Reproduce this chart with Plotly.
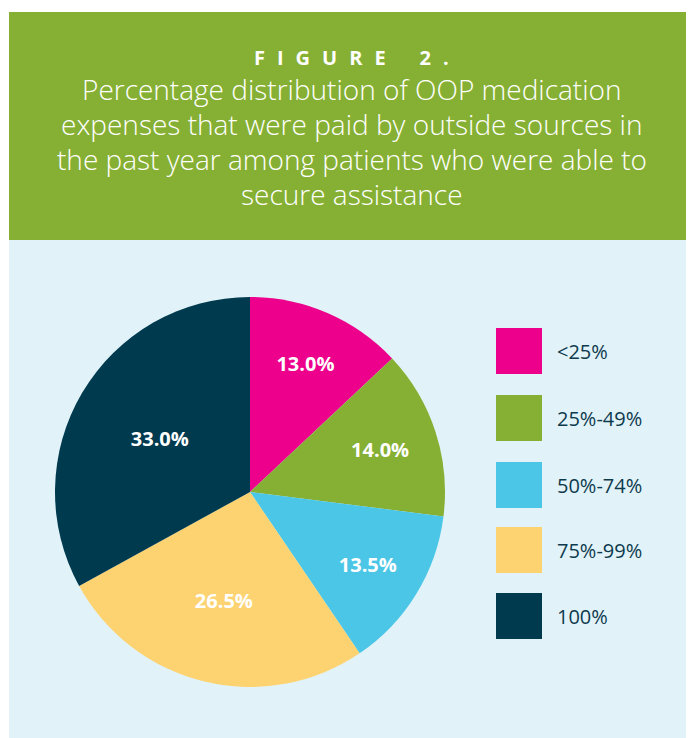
import plotly.graph_objects as go

categories = ["<25%", "25%-49%", "50%-74%", "75%-99%", "100%"]
values = [13.0, 14.0, 13.5, 26.5, 33.0]
colors = ["#EC008C", "#86B034", "#4BC6E6", "#FDD372", "#003A4F"]
header = "FIGURE 2."
title_lines = [
    "Percentage distribution of OOP medication",
    "expenses that were paid by outside sources in",
    "the past year among patients who were able to",
    "secure assistance",
]

# the page body adds an 8px margin; work in reference-pixel coordinates and shift
OFF = 8
W, H = 694 - OFF, 738 - OFF
FONT = "'Open Sans', sans-serif"


def px(x):
    return (x - OFF) / W


def py(y):
    return 1 - (y - OFF) / H


fig = go.Figure()
fig.add_trace(go.Pie(
    labels=categories, values=values, sort=False, direction="clockwise",
    rotation=0, marker=dict(colors=colors, line=dict(width=0)),
    texttemplate="%{value:.1f}%", textposition="inside",
    insidetextorientation="horizontal",
    textfont=dict(family=FONT, size=20, color="white", weight="bold"),
    domain=dict(x=[px(55), px(445)], y=[py(687), py(297)]),
    showlegend=False, hoverinfo="label+value",
))

shapes = [
    dict(type="rect", xref="paper", yref="paper", x0=px(9), x1=1, y0=py(240), y1=py(12),
         fillcolor="#86B034", line=dict(width=0), layer="below"),
    dict(type="rect", xref="paper", yref="paper", x0=px(9), x1=1, y0=0, y1=py(240),
         fillcolor="#E1F3F8", line=dict(width=0), layer="below"),
]
annotations = []
spaced = "\u2002\u200a".join(list(header.replace(" ", "\u2002")))
cx = px((9 + 694) / 2)
annotations.append(dict(text="<b>" + spaced + "</b>", x=cx, y=py(57),
                        xref="paper", yref="paper", showarrow=False, xanchor="center", yanchor="middle",
                        font=dict(family=FONT, size=20, color="white")))
for i, line in enumerate(title_lines):
    annotations.append(dict(text=line, x=cx, y=py(89 + i * 35),
                            xref="paper", yref="paper", showarrow=False, xanchor="center",
                            yanchor="middle", font=dict(family=FONT, size=28, color="white", weight=300)))

legend_tops = [328, 395, 462, 527, 593]
for i, cat in enumerate(categories):
    t = legend_tops[i]
    shapes.append(dict(type="rect", xref="paper", yref="paper", x0=px(496), x1=px(542),
                       y0=py(t + 46), y1=py(t), fillcolor=colors[i], line=dict(width=0)))
    annotations.append(dict(text=cat, x=px(555), y=py(t + 23), xref="paper", yref="paper",
                            showarrow=False, xanchor="left", yanchor="middle",
                            font=dict(family=FONT, size=20, color="#0E3A4E")))

fig.update_layout(width=W, height=H, margin=dict(l=0, r=0, t=0, b=0),
                  paper_bgcolor="white", plot_bgcolor="white",
                  shapes=shapes, annotations=annotations)
fig.write_html("out.html")
